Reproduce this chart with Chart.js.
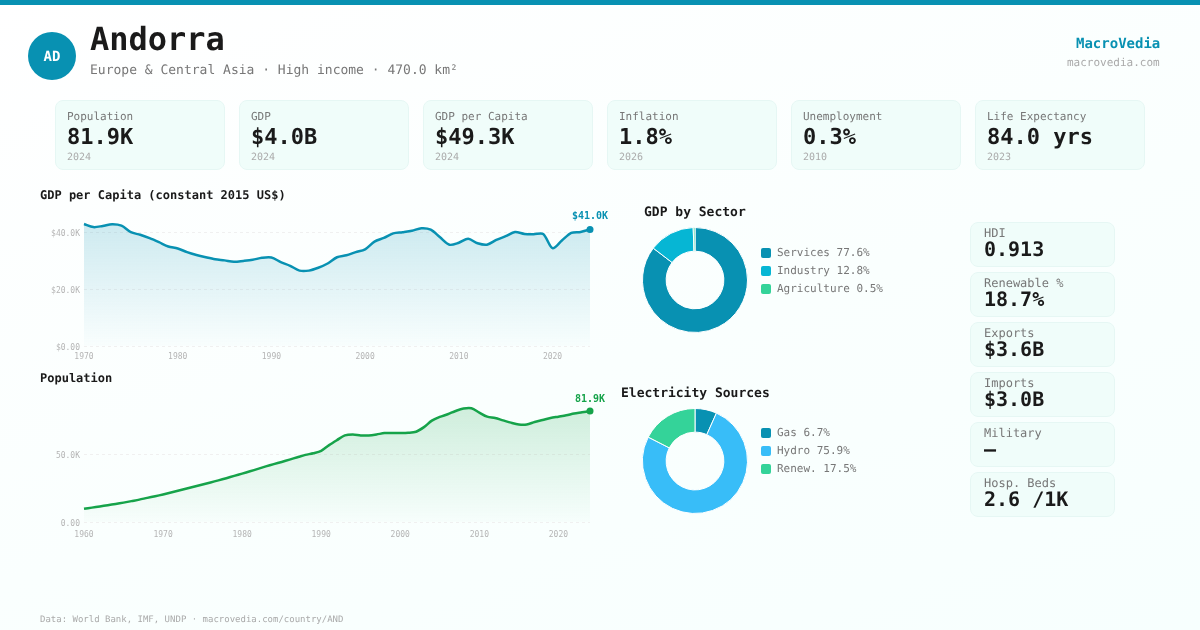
<!DOCTYPE html>
<html>
<head>
<meta charset="utf-8">
<script src="https://cdn.jsdelivr.net/npm/chart.js@4"></script>
<style>
*{box-sizing:border-box;margin:0;padding:0}
html,body{width:1200px;height:630px;overflow:hidden}
body{position:relative;font-family:"DejaVu Sans Mono",monospace;background:linear-gradient(160deg,#ffffff 0%,#fafffe 55%,#f7fffe 100%);color:#1a1a1a;text-rendering:geometricPrecision}
.abs{position:absolute;white-space:pre;line-height:1;will-change:transform}
#bar{position:absolute;left:0;top:0;width:1200px;height:5px;background:#0891b2}
#avatar{position:absolute;left:28px;top:32px;width:48px;height:48px;border-radius:50%;background:#0891b2;color:#fff;font-weight:700;font-size:14px;display:flex;align-items:center;justify-content:center;padding-top:1px;will-change:transform}
.card{position:absolute;background:#f0fdfa;border:1px solid #e6f7f4;border-radius:8px;will-change:transform}
.card div{position:absolute;white-space:pre;line-height:1}
.sec{font-weight:700}
canvas{position:absolute;display:block}
.lg{position:absolute;font-size:11px;color:#777;line-height:1;white-space:pre;will-change:transform}
.sw{position:absolute;width:10px;height:10px;border-radius:2px}
</style>
</head>
<body>
<div id="bar"></div>
<div id="avatar">AD</div>
<div class="abs" style="left:90px;top:23px;font-size:32px;font-weight:700">Andorra</div>
<div class="abs" style="left:90px;top:64px;font-size:13px;color:#777">Europe &amp; Central Asia · High income · 470.0 km²</div>
<div class="abs" style="right:40px;top:37px;font-size:14px;font-weight:700;color:#0891b2">MacroVedia</div>
<div class="abs" style="right:40px;top:57px;font-size:11px;color:#aaa">macrovedia.com</div>
<div class="abs sec" style="left:40px;top:189px;font-size:12px">GDP per Capita (constant 2015 US$)</div>
<div class="abs sec" style="left:40px;top:372px;font-size:12px">Population</div>
<div class="abs sec" style="left:644px;top:206px;font-size:13px">GDP by Sector</div>
<div class="abs sec" style="left:621px;top:387px;font-size:13px">Electricity Sources</div>
<div class="abs" style="left:40px;top:616px;font-size:9px;color:#aaa">Data: World Bank, IMF, UNDP · macrovedia.com/country/AND</div>
<canvas id="gdpLine" width="570" height="161" style="left:40px;top:205px;width:570px;height:161px"></canvas>
<canvas id="popLine" width="570" height="157" style="left:40px;top:385px;width:570px;height:157px"></canvas>
<canvas id="sector" width="106" height="106" style="left:642px;top:227px;width:106px;height:106px"></canvas>
<canvas id="power" width="106" height="106" style="left:642px;top:408px;width:106px;height:106px"></canvas>
<script>
const statLabels = ["Population","GDP","GDP per Capita","Inflation","Unemployment","Life Expectancy"];
const statValues = ["81.9K","$4.0B","$49.3K","1.8%","0.3%","84.0 yrs"];
const statYears = ["2024","2024","2024","2026","2010","2023"];
const sideLabels = ["HDI","Renewable %","Exports","Imports","Military","Hosp. Beds"];
const sideValues = ["0.913","18.7%","$3.6B","$3.0B","—","2.6 /1K"];

const gdpYears = [1970,1971,1972,1973,1974,1975,1976,1977,1978,1979,1980,1981,1982,1983,1984,1985,1986,1987,1988,1989,1990,1991,1992,1993,1994,1995,1996,1997,1998,1999,2000,2001,2002,2003,2004,2005,2006,2007,2008,2009,2010,2011,2012,2013,2014,2015,2016,2017,2018,2019,2020,2021,2022,2023,2024];
const gdpValues = [42900,41800,42200,42800,42300,40000,39100,37900,36500,35000,34300,33000,32000,31200,30500,30100,29600,29900,30300,31000,31100,29500,28200,26500,26500,27500,29000,31200,31900,33000,34000,36700,38000,39600,40000,40500,41400,40900,38200,35600,36300,37700,36100,35600,37300,38600,40100,39400,39300,39400,34400,37100,39800,40100,41000];
const gdpTicks = [0,20000,40000];
const popYears = [1960,1961,1962,1963,1964,1965,1966,1967,1968,1969,1970,1971,1972,1973,1974,1975,1976,1977,1978,1979,1980,1981,1982,1983,1984,1985,1986,1987,1988,1989,1990,1991,1992,1993,1994,1995,1996,1997,1998,1999,2000,2001,2002,2003,2004,2005,2006,2007,2008,2009,2010,2011,2012,2013,2014,2015,2016,2017,2018,2019,2020,2021,2022,2023,2024];
const popValues = [9700,10600,11500,12400,13300,14300,15400,16500,17800,19000,20300,21700,23200,24700,26200,27700,29200,30700,32300,34000,35700,37400,39200,41000,42700,44300,46000,47800,49500,50700,52500,56700,60400,63900,64600,63900,63900,64600,65600,65600,65600,65800,66600,70000,74800,77500,79500,81900,83700,83900,80700,77700,76700,75000,73300,72000,72000,73800,75200,76700,77700,78700,80000,80900,81900];
const popTicks = [0,50000];

const sectorLabels = ["Services 77.6%","Industry 12.8%","Agriculture 0.5%"];
const sectorValues = [77.6,12.8,0.5];
const sectorColors = ["#0891b2","#06b6d4","#34d399"];
const powerLabels = ["Gas 6.7%","Hydro 75.9%","Renew. 17.5%"];
const powerValues = [6.7,75.9,17.5];
const powerColors = ["#0891b2","#38bdf8","#34d399"];

const FONT = '"DejaVu Sans Mono", monospace';
const add = (cls, css, txt) => { const d=document.createElement('div'); d.className=cls; d.style.cssText=css; if(txt) d.textContent=txt; document.body.appendChild(d); return d; };

statLabels.forEach((l,i)=>{
  const c = add('card',`left:${55+184*i}px;top:100px;width:170px;height:70px`);
  c.innerHTML = `<div style="left:11px;top:10px;font-size:11px;color:#777"></div><div style="left:11px;top:26px;font-size:22px;font-weight:700"></div><div style="left:11px;top:52px;font-size:10px;color:#aaa"></div>`;
  c.children[0].textContent=l; c.children[1].textContent=statValues[i]; c.children[2].textContent=statYears[i];
});
sideLabels.forEach((l,i)=>{
  const c = add('card',`left:970px;top:${222+50*i}px;width:145px;height:45px`);
  c.innerHTML = `<div style="left:13px;top:4px;font-size:12px;color:#777"></div><div style="left:13px;top:16px;font-size:20px;font-weight:700"></div>`;
  c.children[0].textContent=l; c.children[1].textContent=sideValues[i];
});
function legend(labels,colors,top){
  labels.forEach((l,i)=>{
    add('sw',`left:761px;top:${top+18*i}px;background:${colors[i]}`);
    add('lg',`left:777px;top:${top-1+18*i}px`,l);
  });
}
legend(sectorLabels,sectorColors,248);
legend(powerLabels,powerColors,428);

function lineChart(id,labels,values,color,rgb,maxY,yTicks,padTop,prefix,endText,xPad,endGap){
  const endLabel = {
    id:'endLabel',
    afterDatasetsDraw(chart){
      const pt = chart.getDatasetMeta(0).data[values.length-1];
      const c = chart.ctx;
      c.save(); c.font='bold 10px '+FONT; c.fillStyle=color; c.textAlign='center'; c.textBaseline='middle';
      c.fillText(endText,pt.x,pt.y-endGap); c.restore();
    }
  };
  return new Chart(document.getElementById(id),{
    type:'line',
    data:{labels,datasets:[{
      data:values,borderColor:color,borderWidth:2.5,tension:0.3,fill:true,
      backgroundColor(ctx){
        const a=ctx.chart.chartArea; if(!a) return 'transparent';
        const g=ctx.chart.ctx.createLinearGradient(0,a.top,0,a.bottom);
        g.addColorStop(0,`rgba(${rgb},0.2)`); g.addColorStop(1,`rgba(${rgb},0.01)`); return g;
      },
      pointRadius:c=>c.dataIndex===values.length-1?3.5:0,
      pointBackgroundColor:color,pointBorderWidth:0
    }]},
    options:{
      responsive:false,animation:false,devicePixelRatio:1,
      layout:{padding:{top:padTop,right:20,left:0,bottom:0}},
      plugins:{legend:{display:false},tooltip:{enabled:false}},
      scales:{
        x:{offset:false,grid:{display:false},border:{display:false},
          afterFit(s){s.height=20;},
          ticks:{autoSkip:false,maxRotation:0,padding:xPad,color:'#b5b5b5',font:{family:FONT,size:8},
            callback(v){const y=this.getLabelForValue(v);return y%10===0?String(y):null;}}},
        y:{min:0,max:maxY,grid:{color:'#f0f0f0',drawTicks:false},border:{display:false,dash:[3,3]},
          afterFit(s){s.width=44;},
          afterBuildTicks(s){s.ticks=yTicks.map(value=>({value}));},
          ticks:{padding:4,labelOffset:2,color:'#b5b5b5',font:{family:FONT,size:8},
            callback(v){return v===0?prefix+'0.00':prefix+(v/1000).toFixed(1)+'K';}}}
      }
    },
    plugins:[endLabel]
  });
}
lineChart('gdpLine',gdpYears,gdpValues,'#0891b2','8,145,178',45000,gdpTicks,13,'$','$41.0K',-2,13);
lineChart('popLine',popYears,popValues,'#16a34a','22,163,74',90000,popTicks,15,'','81.9K',0,12);

function donut(id,values,colors){
  return new Chart(document.getElementById(id),{
    type:'doughnut',
    data:{datasets:[{data:values,backgroundColor:colors,borderColor:'#ffffff',borderWidth:1}]},
    options:{responsive:false,animation:false,devicePixelRatio:1,cutout:'55%',
      layout:{padding:0},plugins:{legend:{display:false},tooltip:{enabled:false}}}
  });
}
donut('sector',sectorValues,sectorColors);
donut('power',powerValues,powerColors);
</script>
</body>
</html>
